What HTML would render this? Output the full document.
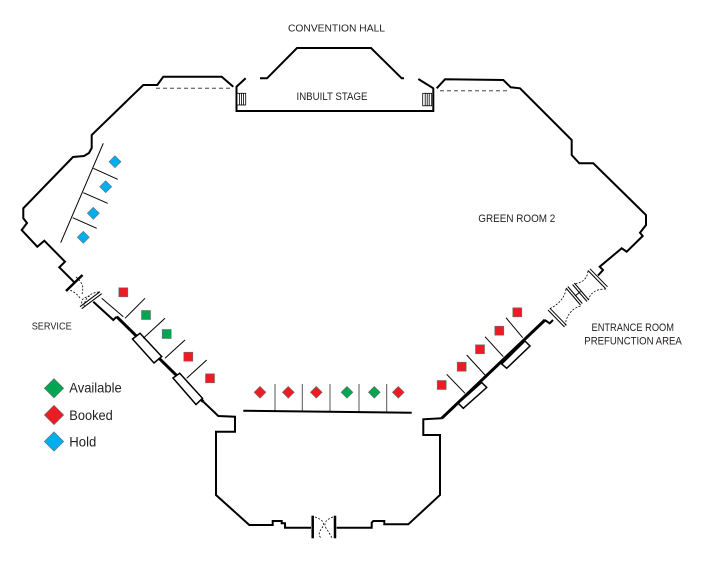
<!DOCTYPE html>
<html>
<head>
<meta charset="utf-8">
<style>
html,body{margin:0;padding:0;background:#fff;}
svg{display:block;}
text{font-family:"Liberation Sans",sans-serif;fill:#231f20;}
</style>
</head>
<body>
<svg width="711" height="561" viewBox="0 0 711 561" xmlns="http://www.w3.org/2000/svg">
<rect width="711" height="561" fill="#fff"/>

<!-- Labels -->
<text x="288" y="31.5" font-size="10.5" textLength="97" lengthAdjust="spacingAndGlyphs">CONVENTION HALL</text>
<text x="296.5" y="100" font-size="11" textLength="71" lengthAdjust="spacingAndGlyphs">INBUILT STAGE</text>
<text x="478.3" y="222" font-size="11" textLength="77" lengthAdjust="spacingAndGlyphs">GREEN ROOM 2</text>
<text x="31.7" y="329.3" font-size="10.5" textLength="40" lengthAdjust="spacingAndGlyphs">SERVICE</text>
<text x="591.5" y="331" font-size="11" textLength="82.5" lengthAdjust="spacingAndGlyphs">ENTRANCE ROOM</text>
<text x="584.3" y="344.5" font-size="11" textLength="97.5" lengthAdjust="spacingAndGlyphs">PREFUNCTION AREA</text>

<!-- Stage trapezoid -->
<path d="M260,78.3 L267,78.3 L297,48 L371,48 L401.7,78.3 L404,78.3" fill="none" stroke="#000" stroke-width="2"/>

<!-- Stage room -->
<path d="M245.7,78.3 L236.5,86.7 L236.5,111 L433.3,111 L433.3,88.3 L418.3,79" fill="none" stroke="#000" stroke-width="2"/>

<!-- stairs -->
<g fill="#fff" stroke="#000" stroke-width="0.8">
<rect x="237" y="93.3" width="8.7" height="11.7"/>
<line x1="239.5" y1="93.3" x2="239.5" y2="105"/>
<line x1="241.5" y1="93.3" x2="241.5" y2="105"/>
<line x1="243.5" y1="93.3" x2="243.5" y2="105"/>
<rect x="422.7" y="93.3" width="9" height="12.5"/>
<line x1="425.2" y1="93.3" x2="425.2" y2="105.8"/>
<line x1="427.2" y1="93.3" x2="427.2" y2="105.8"/>
<line x1="429.2" y1="93.3" x2="429.2" y2="105.8"/>
</g>

<!-- Dashed lines -->
<line x1="156" y1="88.3" x2="233" y2="88.3" stroke="#777" stroke-width="1.4" stroke-dasharray="4 3"/>
<line x1="440" y1="90.7" x2="510" y2="90.7" stroke="#777" stroke-width="1.4" stroke-dasharray="4 3"/>

<!-- Left outer wall -->
<path d="M233.3,86.7 L221.7,76.7 L163.3,76.7 L157.3,85 L143.3,85 L91.7,135 L91.7,148 L89,153 L84,156 L73,157 L23.3,208.3 L23.3,218.3 L27,223 L21.7,230 L37.3,246.7 L44.3,240.7 L65,261.7 L59.3,267.3 L74.3,282.3" fill="none" stroke="#000" stroke-width="2"/>

<!-- Left door -->
<line x1="66" y1="291" x2="82.5" y2="275" stroke="#000" stroke-width="2.5"/>
<path d="M76,277 Q85,284 82,294" fill="none" stroke="#000" stroke-width="0.8" stroke-dasharray="2 1.5"/>
<path d="M67,289 Q76,292 80,298" fill="none" stroke="#000" stroke-width="0.8" stroke-dasharray="2 1.5"/>
<path d="M99,292 Q86,293 84,306" fill="none" stroke="#000" stroke-width="0.8" stroke-dasharray="2 1.5"/>
<path d="M90,296 Q80,298 82,304" fill="none" stroke="#000" stroke-width="0.8" stroke-dasharray="2 1.5"/>
<line x1="80" y1="306.7" x2="100" y2="291.7" stroke="#000" stroke-width="1"/>
<line x1="81.7" y1="308.7" x2="101.7" y2="293.7" stroke="#000" stroke-width="1"/>

<!-- Left counter wall -->
<line x1="101.7" y1="298.3" x2="123.3" y2="316.7" stroke="#000" stroke-width="1"/>
<path d="M93.3,301.7 L113.3,320 L116.7,316.7" fill="none" stroke="#000" stroke-width="2"/>
<line x1="116.7" y1="316.7" x2="203.3" y2="401.7" stroke="#000" stroke-width="3"/>
<polygon points="132.5,339 140,333.3 161.7,356.5 154,363" fill="#fff" stroke="#000" stroke-width="1.5"/>
<polygon points="173,378 179.7,373.3 202.5,398.3 196,404.5" fill="#fff" stroke="#000" stroke-width="1.5"/>

<!-- Bottom room -->
<path d="M203.3,401.7 L218.3,416 L235,416.7 L235,431.7 L216,431.7 L216,495 L249.3,525 L272.7,525 L272.7,521 L281.7,521 L281.7,523.3 L285,523.3 L285,527.7 L311,527.7" fill="none" stroke="#000" stroke-width="2"/>
<line x1="312.7" y1="515.7" x2="312.7" y2="538.3" stroke="#000" stroke-width="2.5"/>
<line x1="335" y1="515.7" x2="335" y2="538.3" stroke="#000" stroke-width="2.5"/>
<path d="M315,517 Q327,521 322,528 Q317,534 321,538" fill="none" stroke="#000" stroke-width="0.8" stroke-dasharray="2 1.5"/>
<path d="M333,517 Q322,521 326,528 Q330,534 332,538" fill="none" stroke="#000" stroke-width="0.8" stroke-dasharray="2 1.5"/>
<path d="M336.7,527.7 L371.7,527.7 L371.7,522.7 L373.3,521 L384.3,521 L384.3,524.3 L408.3,524.3 L440,495 L440,435 L423.3,435 L423.3,419.3 L441.7,418.3" fill="none" stroke="#000" stroke-width="2"/>

<!-- Right counter wall -->
<line x1="441.7" y1="418.3" x2="545" y2="320" stroke="#000" stroke-width="3"/>
<polygon points="458.3,403.3 463.3,408.3 486.7,387.5 481.7,382.5" fill="#fff" stroke="#000" stroke-width="1.5"/>
<polygon points="501.7,364 506.7,368.3 530,346 525,341" fill="#fff" stroke="#000" stroke-width="1.5"/>
<path d="M544.7,320 L549.7,323.3 L553,320" fill="none" stroke="#000" stroke-width="2"/>

<!-- Right doors -->
<g stroke="#000" stroke-width="1" fill="none">
<line x1="548" y1="310" x2="564.5" y2="327"/>
<line x1="550" y1="308.3" x2="566.5" y2="325.3"/>
<line x1="566" y1="288" x2="580.5" y2="305"/>
<line x1="567.8" y1="286.5" x2="582.3" y2="303.5"/>
<line x1="572.5" y1="284.5" x2="587" y2="301.5"/>
<line x1="574.3" y1="283" x2="588.8" y2="300"/>
<line x1="575" y1="296" x2="580.5" y2="291.5"/>
<line x1="588" y1="270.5" x2="605.5" y2="288.5"/>
<line x1="590" y1="268.8" x2="607.5" y2="286.8"/>
</g>
<g stroke="#000" stroke-width="0.8" fill="none" stroke-dasharray="2 1.5">
<path d="M566,289 Q564,302 549,309"/>
<path d="M580.5,306 Q567,310 565,326"/>
<path d="M588,271 Q587,282 574.5,284"/>
<path d="M606,289 Q591,289 588.5,300"/>
</g>

<!-- Right outer wall -->
<path d="M598,275.5 L603,270 L599.7,266.7 L621.7,248.3 L626.7,251.7 L642.7,236 L640,232.7 L646,225 L646,215 L593.3,163.3 L579.3,163.3 L571.7,155 L571.7,140 L520,88.3 L510.7,87.3 L503.3,80 L445,79.3 L436.7,88.3" fill="none" stroke="#000" stroke-width="2"/>

<!-- Left hold area -->
<g stroke="#000" stroke-width="1">
<line x1="103.3" y1="143.3" x2="60.7" y2="242.7"/>
<line x1="93.3" y1="168.3" x2="117.7" y2="179.3"/>
<line x1="83.3" y1="192.7" x2="107.7" y2="203.3"/>
<line x1="72.7" y1="217.7" x2="96.7" y2="228.3"/>
</g>

<!-- Left dividers -->
<g stroke="#000" stroke-width="1">
<line x1="125" y1="318.3" x2="145" y2="298.3"/>
<line x1="143.3" y1="338.3" x2="165" y2="318.3"/>
<line x1="165" y1="358.3" x2="185" y2="340"/>
<line x1="186.7" y1="378.3" x2="206.7" y2="360"/>
</g>

<!-- Right dividers -->
<g stroke="#000" stroke-width="1">
<line x1="465" y1="393.3" x2="446.7" y2="374.3"/>
<line x1="485" y1="375" x2="466.7" y2="355"/>
<line x1="503.3" y1="356.7" x2="485" y2="336.7"/>
<line x1="522.7" y1="337.7" x2="506" y2="317.7"/>
</g>

<!-- Bottom bar -->
<g stroke="#555" stroke-width="1">
<line x1="275" y1="384" x2="275" y2="411"/>
<line x1="302.3" y1="384" x2="302.3" y2="411.5"/>
<line x1="330" y1="384" x2="330" y2="411.8"/>
<line x1="359" y1="384" x2="359" y2="412"/>
<line x1="386.7" y1="384" x2="386.7" y2="412.3"/>
</g>
<line x1="243.3" y1="410.7" x2="411.7" y2="412.7" stroke="#000" stroke-width="2"/>

<!-- Squares -->
<g stroke="#6d6e71" stroke-width="0.6">
<rect x="118.8" y="287.8" width="9" height="9" fill="#ed1c24"/>
<rect x="141.5" y="310.5" width="9" height="9" fill="#00a651"/>
<rect x="162.2" y="329.5" width="9" height="9" fill="#00a651"/>
<rect x="183.8" y="352.2" width="9" height="9" fill="#ed1c24"/>
<rect x="205.5" y="373.8" width="9" height="9" fill="#ed1c24"/>

<rect x="437.2" y="380.5" width="9" height="9" fill="#ed1c24"/>
<rect x="457.2" y="362.2" width="9" height="9" fill="#ed1c24"/>
<rect x="475.5" y="344.8" width="9" height="9" fill="#ed1c24"/>
<rect x="494.8" y="326.2" width="9" height="9" fill="#ed1c24"/>
<rect x="512.8" y="307.8" width="9" height="9" fill="#ed1c24"/>
</g>

<!-- Diamonds -->
<g stroke="#6d6e71" stroke-width="0.6">
<polygon points="260,386.4 265.9,392.3 260,398.2 254.1,392.3" fill="#ed1c24"/>
<polygon points="288.3,386.4 294.2,392.3 288.3,398.2 282.4,392.3" fill="#ed1c24"/>
<polygon points="316.3,386.4 322.2,392.3 316.3,398.2 310.4,392.3" fill="#ed1c24"/>
<polygon points="347,386.4 352.9,392.3 347,398.2 341.1,392.3" fill="#00a651"/>
<polygon points="374.3,386.4 380.2,392.3 374.3,398.2 368.4,392.3" fill="#00a651"/>
<polygon points="398.3,386.4 404.2,392.3 398.3,398.2 392.4,392.3" fill="#ed1c24"/>

<polygon points="115,155.7 121,161.7 115,167.7 109,161.7" fill="#00aeef"/>
<polygon points="105.7,180.7 111.7,186.7 105.7,192.7 99.7,186.7" fill="#00aeef"/>
<polygon points="93.3,207.3 99.3,213.3 93.3,219.3 87.3,213.3" fill="#00aeef"/>
<polygon points="83.3,231.3 89.3,237.3 83.3,243.3 77.3,237.3" fill="#00aeef"/>

<!-- Legend -->
<polygon points="54,378.6 63.7,388.3 54,398 44.3,388.3" fill="#00a651"/>
<polygon points="54,405.3 63.7,415 54,424.7 44.3,415" fill="#ed1c24"/>
<polygon points="54,431.8 63.7,441.5 54,451.2 44.3,441.5" fill="#00aeef"/>
</g>
<text x="69.3" y="392.5" font-size="14" textLength="52.4" lengthAdjust="spacingAndGlyphs">Available</text>
<text x="69.3" y="419.8" font-size="14" textLength="43.4" lengthAdjust="spacingAndGlyphs">Booked</text>
<text x="69.3" y="446.5" font-size="14" textLength="27" lengthAdjust="spacingAndGlyphs">Hold</text>
</svg>
</body>
</html>
